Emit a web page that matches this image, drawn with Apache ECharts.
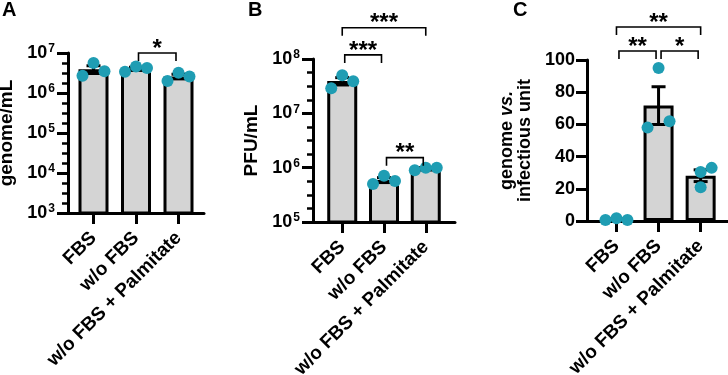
<!DOCTYPE html>
<html><head><meta charset="utf-8">
<script src="https://cdn.jsdelivr.net/npm/echarts@6/dist/echarts.min.js"></script>
<style>html,body{margin:0;padding:0;background:#fff}#wrap{position:relative;width:728px;height:375px;background:#fff}.pn{position:absolute;top:0;height:375px}</style>
</head><body><div id="wrap">
<div id="pA" class="pn" style="left:0;width:243px"></div>
<div id="pB" class="pn" style="left:243px;width:243px"></div>
<div id="pC" class="pn" style="left:486px;width:242px"></div>
</div>
<script>
// ---------------- DATA ----------------
const categories = ['FBS', 'w/o FBS', 'w/o FBS + Palmitate'];
// Panel A: genome/mL (three replicates per group)
const genomeFBS   = [2.7e6, 5.6e6, 3.5e6];
const genomeNoFBS = [3.4e6, 4.6e6, 4.2e6];
const genomePalm  = [2.0e6, 3.2e6, 2.6e6];
// Panel B: PFU/mL
const pfuFBS   = [2.9e7, 5.0e7, 3.9e7];
const pfuNoFBS = [5.0e5, 7.1e5, 5.7e5];
const pfuPalm  = [9.0e5, 1.0e6, 1.0e6];
// Panel C: genome vs. infectious unit
const ratioFBS   = [0.6, 1.7, 0.6];
const ratioNoFBS = [58, 95, 62];
const ratioPalm  = [30.4, 33, 21];
// Axis ranges (log axes as decades)
const decadesA = [3, 7];
const decadesB = [5, 8];
const yRangeC = [0, 100];
const yIntervalC = 20;
// Significance brackets: [from group, to group], bracket level (axis units), label
const sigPairsA  = [[1, 2]];
const sigLevelsA = [1e7];
const sigLabelsA = ['*'];
const sigPairsB  = [[0, 2], [0, 1], [1, 2]];
const sigLevelsB = [3.75e8, 1.19e8, 1.53e6];
const sigLabelsB = ['***', '***', '**'];
const sigPairsC  = [[0, 2], [0, 1], [1, 2]];
const sigLevelsC = [120.5, 105.6, 105.6];
const sigLabelsC = ['**', '**', '*'];

// ---------------- STYLE ----------------
const FONT = '"Liberation Sans", Arial, Helvetica, sans-serif';
const DOT = '#1f9db3';
const BARFILL = '#d4d4d4';
const jitterDefault = [-11, 0, 11];
const jitterC = [[-11, 0, 11], [-11, 0, 11], [0, 11, 0]];

function mean(a){ return a.reduce((s,v)=>s+v,0)/a.length; }
function sem(a){ const m = mean(a); const v = a.reduce((s,x)=>s+(x-m)*(x-m),0)/(a.length-1); return Math.sqrt(v/a.length); }

const panels = [
  { el:'pA', letter:'A', letterLeft:2, groups:[genomeFBS, genomeNoFBS, genomePalm], grid:{left:68, top:53, width:136, height:160}, xr:[-0.6, 2.6],
    log:decadesA, name:'genome/mL', pairs:sigPairsA, levels:sigLevelsA, labels:sigLabelsA, jit:[jitterDefault,jitterDefault,jitterDefault] },
  { el:'pB', letter:'B', letterLeft:5, groups:[pfuFBS, pfuNoFBS, pfuPalm], grid:{left:70, top:59, width:142, height:163}, xr:[-0.7, 2.7],
    log:decadesB, name:'PFU/mL', pairs:sigPairsB, levels:sigLevelsB, labels:sigLabelsB, jit:[jitterDefault,jitterDefault,jitterDefault] },
  { el:'pC', letter:'C', letterLeft:27, groups:[ratioFBS, ratioNoFBS, ratioPalm], grid:{left:101, top:60, width:141, height:161}, xr:[-0.7, 2.65],
    log:null, name:'{t|genome }{i|vs.}\n{t|infectious unit}', pairs:sigPairsC, levels:sigLevelsC, labels:sigLabelsC, jit:jitterC }
];

panels.forEach((p) => {
  const visibleY = {
    position:'left', splitLine:{show:false},
    axisLine:{show:true, onZero:false, lineStyle:{color:'#000', width:3}},
    axisTick:{show:true, length:11, lineStyle:{color:'#000', width:3}},
    name:p.name, nameLocation:'middle', nameGap:48, nameRotate:90,
    nameTextStyle: p.log ? {fontFamily:FONT, fontWeight:'bold', fontSize:19, color:'#000'}
      : {lineHeight:18, rich:{t:{fontFamily:FONT, fontWeight:'bold', fontSize:18, color:'#000'}, i:{fontFamily:FONT, fontWeight:'bold', fontStyle:'italic', fontSize:18, color:'#000'}}}
  };
  const yAxes = [];
  if (p.log) {
    // data axis (logarithmic), hidden; the visible axis below shows the decades with evenly spaced minor ticks
    yAxes.push({ type:'log', min:Math.pow(10, p.log[0]), max:Math.pow(10, p.log[1]), show:false });
    yAxes.push(Object.assign(visibleY, { type:'value', min:p.log[0], max:p.log[1], interval:1,
      minorTick:{show:true, splitNumber:4, length:6, lineStyle:{color:'#000', width:2.5}},
      axisLabel:{ margin:13, color:'#000', formatter: v => '{b|10}{s|' + v + '}',
        rich:{ b:{fontFamily:FONT, fontWeight:'bold', fontSize:18, color:'#000'},
               s:{fontFamily:FONT, fontWeight:'bold', fontSize:12, color:'#000', verticalAlign:'top', padding:[0,0,8,1]} } } }));
  } else {
    yAxes.push(Object.assign(visibleY, { type:'value', min:yRangeC[0], max:yRangeC[1], interval:yIntervalC,
      axisLabel:{margin:12, fontFamily:FONT, fontWeight:'bold', fontSize:18, color:'#000'} }));
  }

  const series = [];
  series.push({ type:'bar', yAxisIndex:0, barWidth:30, clip:true, z:2,
    itemStyle:{color:BARFILL, borderColor:'#000', borderWidth:3},
    data:p.groups.map((g,i)=>[i, mean(g)]) });
  series.push({ type:'custom', yAxisIndex:0, z:3, clip:false,
    data:p.groups.map((g,i)=>[i]),
    renderItem:(params, api) => {
      const i = params.dataIndex, g = p.groups[i];
      const m = mean(g), s = sem(g);
      const lo = api.coord([i, m - s]);
      const hi = api.coord([i, m + s]);
      const w = 7, st = {stroke:'#000', lineWidth:3};
      return {type:'group', children:[
        {type:'line', shape:{x1:lo[0], y1:lo[1], x2:hi[0], y2:hi[1]}, style:st},
        {type:'line', shape:{x1:hi[0]-w, y1:hi[1], x2:hi[0]+w, y2:hi[1]}, style:st},
        {type:'line', shape:{x1:lo[0]-w, y1:lo[1], x2:lo[0]+w, y2:lo[1]}, style:st}
      ]};
    } });
  const pts = [];
  p.groups.forEach((g,i)=>g.forEach((v,j)=>pts.push({value:[i, v], symbolOffset:[p.jit[i][j], 0]})));
  series.push({ type:'scatter', yAxisIndex:0, z:4, symbol:'circle', symbolSize:12,
    itemStyle:{color:DOT, opacity:1}, data:pts });
  series.push({ type:'custom', yAxisIndex:0, z:5, clip:false,
    data:p.pairs.map((pr)=>[pr[0]]),
    renderItem:(params, api) => {
      const idx = params.dataIndex;
      const a = p.pairs[idx][0], b = p.pairs[idx][1], lev = p.levels[idx];
      const pa = api.coord([a, lev]), pb = api.coord([b, lev]);
      const inset = (b - a === 1) ? 2.5 : 0;
      const x1 = pa[0] + inset, x2 = pb[0] - inset, y = pa[1], leg = 8;
      return {type:'group', children:[
        {type:'polyline', shape:{points:[[x1, y+leg],[x1, y],[x2, y],[x2, y+leg]]}, style:{stroke:'#000', lineWidth:1.6, fill:null}},
        {type:'text', style:{text:p.labels[idx], x:(x1+x2)/2, y:y+8, align:'center', verticalAlign:'bottom',
          fontFamily:FONT, fontWeight:'bold', fontSize:24, fill:'#000'}}
      ]};
    } });

  const option = {
    animation:false,
    title:{text:p.letter, left:p.letterLeft, top:0, padding:0, textStyle:{fontFamily:FONT, fontWeight:'bold', fontSize:20, color:'#000'}},
    grid:Object.assign({containLabel:false, outerBoundsMode:'none'}, p.grid),
    xAxis:{ type:'value', min:p.xr[0], max:p.xr[1], splitLine:{show:false},
      axisLine:{show:true, onZero:false, lineStyle:{color:'#000', width:3}},
      axisTick:{show:true, customValues:[0,1,2], length:11, lineStyle:{color:'#000', width:3}},
      axisLabel:{customValues:[0,1,2], formatter:v=>categories[v], rotate:45, margin:22,
        fontFamily:FONT, fontWeight:'bold', fontSize:19, color:'#000'} },
    yAxis:yAxes,
    series:series
  };
  echarts.init(document.getElementById(p.el), null, {renderer:'canvas'}).setOption(option);
});
</script>
</body></html>
